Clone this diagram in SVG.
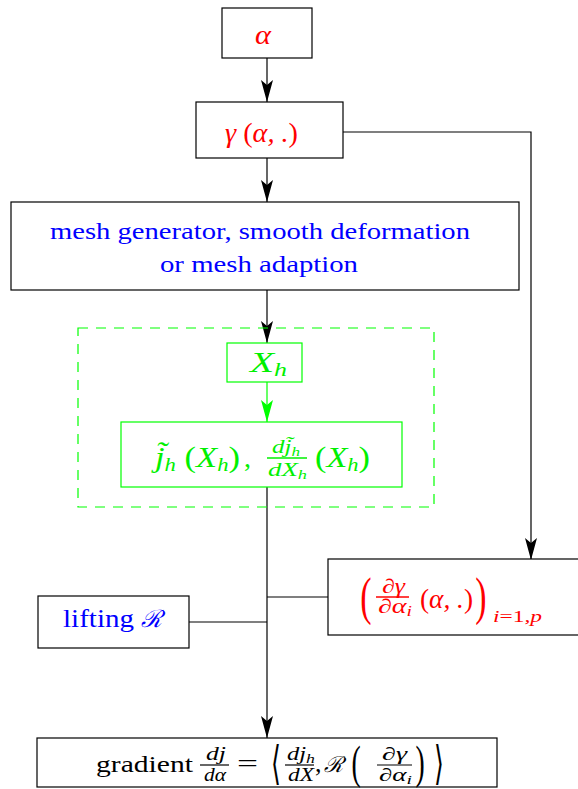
<svg xmlns="http://www.w3.org/2000/svg" width="578" height="789" viewBox="0 0 578 789">
<style>
.box{fill:#fff;stroke:#000;stroke-width:1.2}
.gbox{fill:none;stroke:#00ff00;stroke-width:1.2}
.edge{fill:none;stroke:#000;stroke-width:1.2}
.t{font-family:"Liberation Serif","DejaVu Serif",serif}
.m{font-family:"Liberation Serif","DejaVu Serif",serif;font-style:italic}
.s{font-family:"DejaVu Serif",serif;font-style:italic}
.d{font-family:"DejaVu Serif",serif}
.r{fill:#ff0000}.b{fill:#0000ff}.g{fill:#00f000}.k{fill:#000}
.n{font-style:normal}
</style>
<defs>
<marker id="ah" viewBox="0 0 22 12" refX="22" refY="6" markerWidth="22" markerHeight="12" markerUnits="userSpaceOnUse" orient="auto">
<path d="M0,0 L22,6 L0,12 L5,6 z" fill="#000"/>
</marker>
<marker id="ahg" viewBox="0 0 22 12" refX="22" refY="6" markerWidth="22" markerHeight="12" markerUnits="userSpaceOnUse" orient="auto">
<path d="M0,0 L22,6 L0,12 L5,6 z" fill="#00ff00"/>
</marker>
</defs>

<g id="connectors">
<path class="edge" d="M267,58 V102" marker-end="url(#ah)"/>
<path class="edge" d="M267,158 V202" marker-end="url(#ah)"/>
<path class="edge" d="M343,132 H531 V560" marker-end="url(#ah)"/>
<path class="edge" d="M267,290 V343" marker-end="url(#ah)"/>
<path d="M267,382 V422" fill="none" stroke="#00ff00" stroke-width="1.2" marker-end="url(#ahg)"/>
<path class="edge" d="M267,487 V738" marker-end="url(#ah)"/>
<path class="edge" d="M328,597 H267"/>
<path class="edge" d="M189,622 H267"/>
</g>

<g id="group-dashed">
<rect x="78" y="328" width="356" height="179" fill="none" stroke="#00ff00" stroke-width="1.2" stroke-dasharray="10,8"/>
</g>

<g id="node-alpha">
<rect class="box" x="222" y="8" width="90" height="50"/>
<text class="m r" x="255" y="44" font-size="28" textLength="16" lengthAdjust="spacingAndGlyphs">α</text>
</g>

<g id="node-gamma">
<rect class="box" x="196" y="102" width="147" height="56"/>
<text class="m r" x="225" y="142" font-size="28" textLength="73" lengthAdjust="spacingAndGlyphs">γ <tspan class="n">(</tspan>α, .<tspan class="n">)</tspan></text>
</g>

<g id="node-mesh">
<rect class="box" x="11" y="202" width="508" height="88"/>
<text class="t b" x="50" y="239" font-size="23" textLength="420" lengthAdjust="spacingAndGlyphs">mesh generator, smooth deformation</text>
<text class="t b" x="160" y="272" font-size="23" textLength="198" lengthAdjust="spacingAndGlyphs">or mesh adaption</text>
</g>

<g id="node-xh">
<rect class="gbox" x="227" y="343" width="75" height="39"/>
<text class="m g" x="250" y="372" font-size="29" textLength="37" lengthAdjust="spacingAndGlyphs">X<tspan font-size="19" dy="4">h</tspan></text>
</g>

<g id="node-jh">
<rect class="gbox" x="121" y="422" width="281" height="65"/>
<text class="m g" x="155" y="467" font-size="29" textLength="85" lengthAdjust="spacingAndGlyphs">j̃<tspan font-size="19" dy="4">h</tspan><tspan class="n" dy="-4"> (</tspan>X<tspan font-size="19" dy="4">h</tspan><tspan class="n" dy="-4">)</tspan></text>
<text class="t g" x="244" y="467" font-size="28">,</text>
<text class="m g" x="272" y="453" font-size="19" textLength="28" lengthAdjust="spacingAndGlyphs">dj̃<tspan font-size="13" dy="3">h</tspan></text>
<line x1="267" y1="458" x2="307" y2="458" stroke="#00f000" stroke-width="1.3"/>
<text class="m g" x="268" y="476" font-size="19" textLength="39" lengthAdjust="spacingAndGlyphs">dX<tspan font-size="13" dy="3">h</tspan></text>
<text class="m g" x="315" y="467" font-size="29" textLength="55" lengthAdjust="spacingAndGlyphs"><tspan class="n">(</tspan>X<tspan font-size="19" dy="4">h</tspan><tspan class="n" dy="-4">)</tspan></text>
</g>

<g id="node-dgamma">
<rect class="box" x="328" y="559" width="260" height="76"/>
<text class="t r" x="366" y="614" font-size="52" text-anchor="middle" transform="translate(366,614) scale(0.65,1) translate(-366,-614)">(</text>
<text class="m r" x="382" y="593" font-size="20" textLength="23" lengthAdjust="spacingAndGlyphs">∂γ</text>
<line x1="376" y1="597" x2="409" y2="597" stroke="#ff0000" stroke-width="1.3"/>
<text class="m r" x="378" y="613" font-size="20" textLength="34" lengthAdjust="spacingAndGlyphs">∂α<tspan font-size="14" dy="3">i</tspan></text>
<text class="m r" x="420" y="608" font-size="28" textLength="53" lengthAdjust="spacingAndGlyphs"><tspan class="n">(</tspan>α, .<tspan class="n">)</tspan></text>
<text class="t r" x="481" y="614" font-size="52" text-anchor="middle" transform="translate(481,614) scale(0.65,1) translate(-481,-614)">)</text>
<text class="m r" x="493" y="622" font-size="17" textLength="49" lengthAdjust="spacingAndGlyphs">i<tspan class="n">=1</tspan>,p</text>
</g>

<g id="node-lifting">
<rect class="box" x="38" y="596" width="151" height="52"/>
<text class="t b" x="63" y="627" font-size="26" textLength="71" lengthAdjust="spacingAndGlyphs">lifting</text>
<text class="s b" x="141" y="627" font-size="24">ℛ</text>
</g>

<g id="node-gradient">
<rect class="box" x="37" y="738" width="460" height="49"/>
<text class="t k" x="96" y="772" font-size="24" textLength="97" lengthAdjust="spacingAndGlyphs">gradient</text>
<text class="m k" x="206" y="760" font-size="18" textLength="20" lengthAdjust="spacingAndGlyphs">dj</text>
<line x1="200" y1="765" x2="229" y2="765" stroke="#000" stroke-width="1.2"/>
<text class="m k" x="204" y="781" font-size="18" textLength="22" lengthAdjust="spacingAndGlyphs">dα</text>
<text class="t k" x="237" y="772" font-size="26" textLength="21" lengthAdjust="spacingAndGlyphs">=</text>
<text class="d k" x="276" y="779" font-size="46" text-anchor="middle" transform="translate(276,779) scale(0.55,1) translate(-276,-779)">⟨</text>
<text class="m k" x="287" y="760" font-size="18" textLength="28" lengthAdjust="spacingAndGlyphs">dj<tspan font-size="13" dy="3">h</tspan></text>
<line x1="285" y1="765" x2="314" y2="765" stroke="#000" stroke-width="1.2"/>
<text class="m k" x="288" y="781" font-size="18" textLength="26" lengthAdjust="spacingAndGlyphs">dX</text>
<text class="t k" x="315" y="772" font-size="26">,</text>
<text class="s k" x="324" y="772" font-size="22">ℛ</text>
<text class="t k" x="356" y="778" font-size="46" text-anchor="middle" transform="translate(356,778) scale(0.6,1) translate(-356,-778)">(</text>
<text class="m k" x="382" y="760" font-size="18" textLength="25" lengthAdjust="spacingAndGlyphs">∂γ</text>
<line x1="377" y1="765" x2="412" y2="765" stroke="#000" stroke-width="1.2"/>
<text class="m k" x="379" y="781" font-size="18" textLength="33" lengthAdjust="spacingAndGlyphs">∂α<tspan font-size="13" dy="3">i</tspan></text>
<text class="t k" x="420" y="778" font-size="46" text-anchor="middle" transform="translate(420,778) scale(0.6,1) translate(-420,-778)">)</text>
<text class="d k" x="439" y="779" font-size="46" text-anchor="middle" transform="translate(439,779) scale(0.55,1) translate(-439,-779)">⟩</text>
</g>
</svg>
